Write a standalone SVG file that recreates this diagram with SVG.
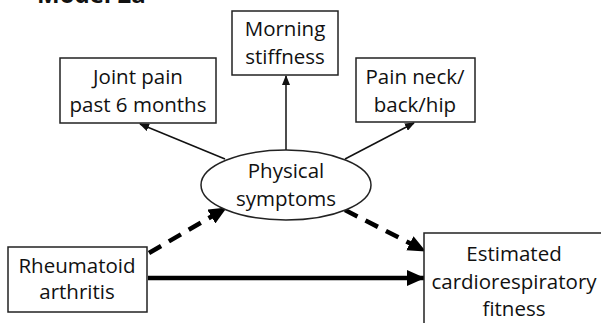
<svg xmlns="http://www.w3.org/2000/svg" width="601" height="323" viewBox="0 0 601 323">
<style>
.box{fill:#fff;stroke:#222;stroke-width:1.5}
.t{font-family:"Open Sans","Liberation Sans",sans-serif;font-size:20.5px;fill:#111;text-anchor:middle}
.thin{stroke:#111;stroke-width:1.5;fill:none}
.thick{stroke:#000;stroke-width:4.5;fill:none}
.dash{stroke:#000;stroke-width:4.5;fill:none;stroke-dasharray:14 9}
</style>
<defs>
<marker id="ah" markerUnits="userSpaceOnUse" markerWidth="10" markerHeight="8" refX="9" refY="4" orient="auto"><path d="M0,0 L10,4 L0,8 z" fill="#111"/></marker>
<marker id="ahb" markerUnits="userSpaceOnUse" markerWidth="18" markerHeight="16" refX="17" refY="8" orient="auto"><path d="M0,0 L18,8 L0,16 z" fill="#000"/></marker>
</defs>
<text x="37" y="3" style="font-family:'Open Sans','Liberation Sans',sans-serif;font-size:24px;font-weight:bold;fill:#111">Model 2a</text>
<g id="connectors">
<line class="thin" x1="286" y1="150" x2="286" y2="76" marker-end="url(#ah)"/>
<line class="thin" x1="225" y1="159" x2="140" y2="124" marker-end="url(#ah)"/>
<line class="thin" x1="345" y1="159" x2="414" y2="123" marker-end="url(#ah)"/>
<line class="thick" x1="148" y1="278" x2="424" y2="278" marker-end="url(#ahb)"/>
<line class="dash" x1="149" y1="253" x2="226" y2="208" marker-end="url(#ahb)"/>
<line class="dash" x1="345" y1="210" x2="425" y2="251" marker-end="url(#ahb)"/>
</g>
<g id="morning">
<rect class="box" x="232" y="11" width="106" height="64"/>
<text class="t" x="285" y="36">Morning</text>
<text class="t" x="285" y="64">stiffness</text>
</g>
<g id="joint">
<rect class="box" x="60" y="58" width="156" height="65"/>
<text class="t" x="138" y="84">Joint pain</text>
<text class="t" x="138" y="112">past 6 months</text>
</g>
<g id="neck">
<rect class="box" x="356" y="58" width="119" height="64"/>
<text class="t" x="415" y="84">Pain neck/</text>
<text class="t" x="415" y="112">back/hip</text>
</g>
<g id="physical">
<ellipse class="box" cx="286" cy="185" rx="85" ry="35"/>
<text class="t" x="286" y="178">Physical</text>
<text class="t" x="286" y="206">symptoms</text>
</g>
<g id="ra">
<rect class="box" x="8" y="247" width="139" height="65"/>
<text class="t" x="77" y="273">Rheumatoid</text>
<text class="t" x="77" y="299">arthritis</text>
</g>
<g id="fitness">
<rect class="box" x="424" y="233" width="200" height="110"/>
<text class="t" x="514" y="261">Estimated</text>
<text class="t" x="514" y="289">cardiorespiratory</text>
<text class="t" x="514" y="316">fitness</text>
</g>
</svg>
